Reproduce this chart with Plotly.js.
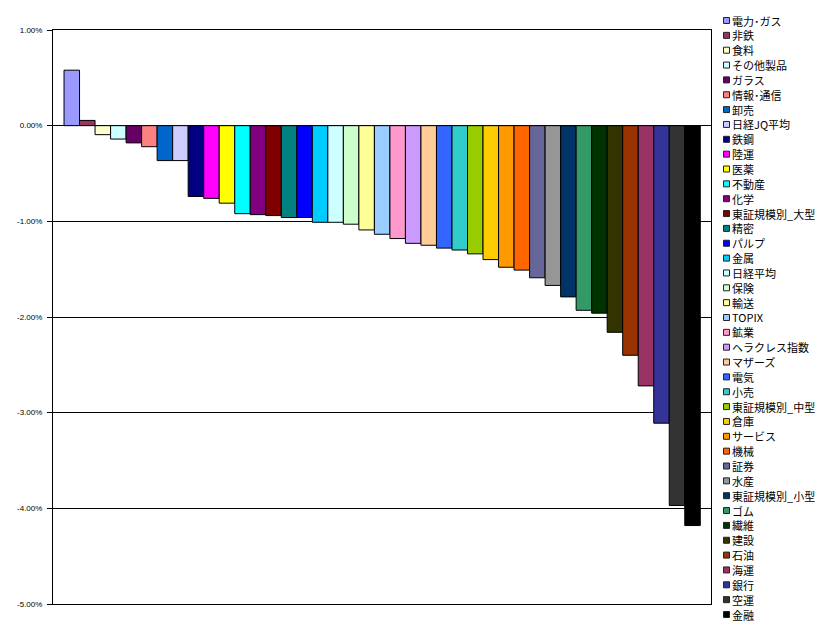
<!DOCTYPE html>
<html>
<head>
<meta charset="utf-8">
<script src="https://cdn.plot.ly/plotly-3.0.1.min.js"></script>
<style>html,body{margin:0;padding:0;background:#fff;}#chart{width:830px;height:633px;}</style>
</head>
<body>
<div id="chart"></div>
<script>
// Categories (series names in legend order)
const categories = ["電力･ガス","非鉄","食料","その他製品","ガラス","情報･通信","卸売","日経JQ平均","鉄鋼","陸運","医薬","不動産","化学","東証規模別_大型","精密","パルプ","金属","日経平均","保険","輸送","TOPIX","鉱業","ヘラクレス指数","マザーズ","電気","小売","東証規模別_中型","倉庫","サービス","機械","証券","水産","東証規模別_小型","ゴム","繊維","建設","石油","海運","銀行","空運","金融"];
// Change (%)
const values = [0.58,0.055,-0.094,-0.14,-0.18,-0.22,-0.365,-0.365,-0.74,-0.76,-0.81,-0.92,-0.93,-0.94,-0.96,-0.96,-1.01,-1.01,-1.03,-1.09,-1.135,-1.18,-1.23,-1.25,-1.28,-1.30,-1.34,-1.40,-1.48,-1.51,-1.59,-1.67,-1.79,-1.93,-1.96,-2.16,-2.40,-2.72,-3.11,-3.97,-4.18];
const colors = ["#9999FF","#993366","#FFFFCC","#CCFFFF","#660066","#FF8080","#0066CC","#CCCCFF","#000080","#FF00FF","#FFFF00","#00FFFF","#800080","#800000","#008080","#0000FF","#00CCFF","#CCFFFF","#CCFFCC","#FFFF99","#99CCFF","#FF99CC","#CC99FF","#FFCC99","#3366FF","#33CCCC","#99CC00","#FFCC00","#FF9900","#FF6600","#666699","#969696","#003366","#339966","#003300","#333300","#993300","#993366","#333399","#333333","#000000"];
const yTicks = [1,0,-1,-2,-3,-4,-5];
const yTickLabels = ["1.00%","0.00%","-1.00%","-2.00%","-3.00%","-4.00%","-5.00%"];

const W = 830, H = 633;
const mL = 53, mR = 119, mT = 30, mB = 29;
const pw = W - mL - mR, ph = H - mT - mB;
const px2x = p => (p - mL) / pw;
const py2y = p => (H - mB - p) / ph;

const trace = {
  type: 'bar',
  x: categories,
  y: values,
  marker: {color: colors, line: {color: '#000', width: 1}},
  hoverinfo: 'x+y',
  showlegend: false
};

const annotations = [];
const shapes = [];
const legTop = 20.5, legStep = 14.85;
categories.forEach((c, i) => {
  const yc = legTop + i * legStep;
  annotations.push({
    xref: 'paper', yref: 'paper', x: px2x(731), y: py2y(yc),
    xanchor: 'left', yanchor: 'middle', showarrow: false, text: c,
    borderpad: 0, height: 14, valign: 'middle',
    font: {family: 'Noto Sans CJK JP, sans-serif', size: 11, color: '#000'}
  });
  shapes.push({
    type: 'rect', xref: 'paper', yref: 'paper',
    x0: px2x(723.5), x1: px2x(729.5), y0: py2y(yc + 3), y1: py2y(yc - 3),
    fillcolor: colors[i], line: {color: '#222', width: 1}
  });
});

const layout = {
  width: W, height: H,
  margin: {l: mL, r: mR, t: mT, b: mB, pad: 0},
  paper_bgcolor: '#fff', plot_bgcolor: '#fff',
  bargap: 0,
  showlegend: false,
  xaxis: {
    type: 'category', range: [-1.21, categories.length - 0.5 + 0.69],
    showticklabels: false, ticks: '', showgrid: false, zeroline: false,
    showline: true, linecolor: '#000', linewidth: 1, mirror: true, fixedrange: true
  },
  yaxis: {
    range: [-5, 1], tickvals: yTicks, ticktext: yTickLabels,
    ticks: 'outside', ticklen: 5, tickcolor: '#000', tickwidth: 1,
    showgrid: true, gridcolor: '#000', gridwidth: 1,
    zeroline: true, zerolinecolor: '#000', zerolinewidth: 1,
    showline: true, linecolor: '#000', linewidth: 1, mirror: true,
    tickfont: {family: 'Liberation Sans, Arial, sans-serif', size: 8, color: '#000'},
    ticklabelstandoff: 3, fixedrange: true
  },
  annotations: annotations,
  shapes: shapes
};

Plotly.newPlot('chart', [trace], layout, {displayModeBar: false, staticPlot: true});
</script>
</body>
</html>
